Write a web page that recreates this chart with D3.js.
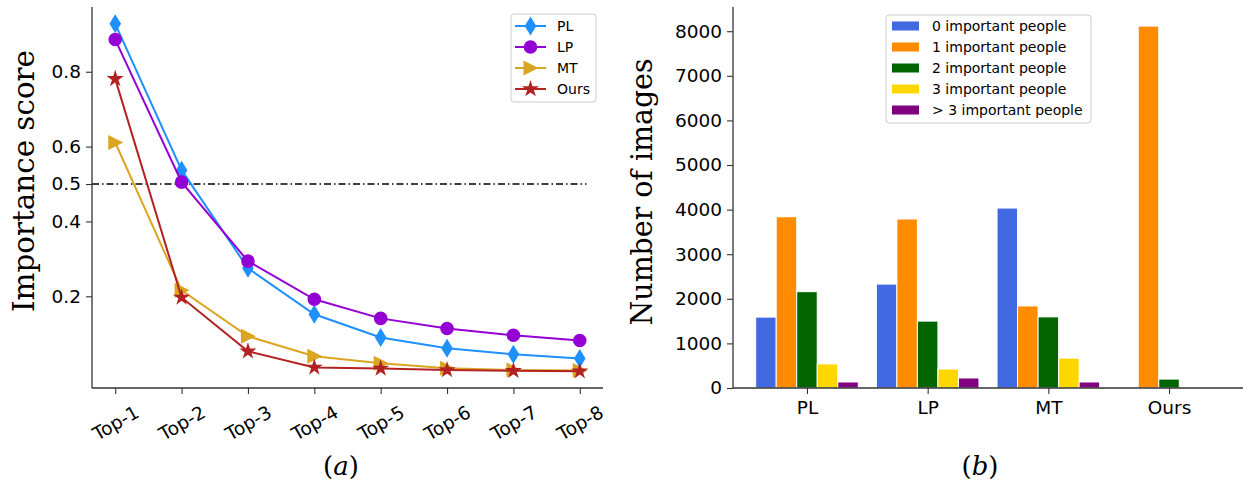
<!DOCTYPE html>
<html><head><meta charset="utf-8">
<script src="https://cdn.jsdelivr.net/npm/d3@7"></script>
<style>
html,body{margin:0;padding:0;background:#fff;}
svg{display:block;font-family:"DejaVu Sans",sans-serif;}
</style></head>
<body>
<svg id="chart" width="1243" height="487"></svg>
<script>
// ---------- data ----------
const topLabels = ["Top-1","Top-2","Top-3","Top-4","Top-5","Top-6","Top-7","Top-8"];
const seriesNames = ["PL","LP","MT","Ours"];
const plScores   = [0.928,0.537,0.275,0.152,0.090,0.061,0.045,0.034];
const lpScores   = [0.886,0.505,0.294,0.192,0.141,0.114,0.096,0.082];
const mtScores   = [0.611,0.216,0.093,0.040,0.021,0.008,0.003,0.002];
const oursScores = [0.781,0.197,0.053,0.010,0.007,0.003,0.001,0.000];
const scoreTicks = [0.2,0.4,0.5,0.6,0.8];
const thresholdValue = 0.5;

const methods = ["PL","LP","MT","Ours"];
const groupNames = ["0 important people","1 important people","2 important people","3 important people","> 3 important people"];
const count0 = [1590,2330,4035,0];
const count1 = [3840,3790,1840,8115];
const count2 = [2160,1500,1595,200];
const count3 = [540,425,670,0];
const count4 = [135,225,135,0];
const countTicks = [0,1000,2000,3000,4000,5000,6000,7000,8000];

// ---------- styles ----------
const lineColors = ["#1e90ff","#9400d3","#daa520","#b22222"];
const barColors = ["#4169e1","#ff8c00","#006400","#ffd700","#800080"];
const axisColor = "#333";
const serif = "'DejaVu Serif','Liberation Serif',serif";
const sans = "'DejaVu Sans',sans-serif";

const svg = d3.select("#chart");

function markerPath(kind){
  const p = d3.path();
  if(kind==="diamond"){ p.moveTo(0,-9.5);p.lineTo(5.8,0);p.lineTo(0,9.5);p.lineTo(-5.8,0);p.closePath(); }
  else if(kind==="circle"){ p.arc(0,0,6.8,0,2*Math.PI); p.closePath(); }
  else if(kind==="tri"){ p.moveTo(8,0);p.lineTo(-7,-7.5);p.lineTo(-7,7.5);p.closePath(); }
  else if(kind==="star"){
    const R=9, r=R*0.382;
    for(let i=0;i<10;i++){
      const a=-Math.PI/2+i*Math.PI/5, rr=i%2?r:R;
      const x=rr*Math.cos(a), y=rr*Math.sin(a);
      if(i===0)p.moveTo(x,y);else p.lineTo(x,y);
    }
    p.closePath();
  }
  return p.toString();
}
const markerKinds = ["diamond","circle","tri","star"];

// ---------- left chart ----------
const xL = d3.scaleLinear().domain([-0.35,7.35]).range([92,603]);
const yL = d3.scaleLinear().domain([-0.045,0.973]).range([388,7]);
const gL = svg.append("g");

const scoreSeries = [plScores,lpScores,mtScores,oursScores];

// threshold line
gL.append("line")
  .attr("x1",xL(-0.35)).attr("x2",xL(7.1))
  .attr("y1",yL(thresholdValue)).attr("y2",yL(thresholdValue))
  .attr("stroke","#000").attr("stroke-width",1.4)
  .attr("stroke-dasharray","7,3,1.5,3");

const line = d3.line().x((d,i)=>xL(i)).y(d=>yL(d));
scoreSeries.forEach((s,k)=>{
  const g = gL.append("g");
  g.append("path").attr("d",line(s)).attr("fill","none")
    .attr("stroke",lineColors[k]).attr("stroke-width",2);
  g.selectAll("path.m").data(s).join("path").attr("class","m")
    .attr("d",markerPath(markerKinds[k]))
    .attr("transform",(d,i)=>`translate(${xL(i)},${yL(d)})`)
    .attr("fill",lineColors[k]);
});

// axes left
const axL = gL.append("g").attr("transform","translate(92,0)")
  .call(d3.axisLeft(yL).tickValues(scoreTicks).tickFormat(d3.format(".1f")).tickSize(6).tickPadding(5));
axL.select(".domain").attr("stroke",axisColor).attr("stroke-width",1.3).attr("d","M0,7V388");
axL.selectAll(".tick line").attr("stroke",axisColor).attr("stroke-width",1.1);
axL.selectAll("text").style("font-size","18.5px").style("font-family",sans);

const axLb = gL.append("g").attr("transform","translate(0,388)")
  .call(d3.axisBottom(xL).tickValues(d3.range(topLabels.length)).tickFormat(i=>topLabels[i]).tickSize(6));
axLb.select(".domain").attr("stroke",axisColor).attr("stroke-width",1.3).attr("d","M92,0H603");
axLb.selectAll(".tick line").attr("stroke",axisColor).attr("stroke-width",1.1);
axLb.selectAll("text").style("font-size","18.5px").style("font-family",sans)
  .attr("text-anchor","middle").attr("dy",null).attr("y",null)
  .attr("dominant-baseline","central")
  .attr("transform","translate(0,35) rotate(-30)");

gL.append("text").attr("transform","translate(34,181) rotate(-90)")
  .attr("text-anchor","middle").style("font-family",serif).style("font-size","29px")
  .attr("textLength",262).attr("lengthAdjust","spacingAndGlyphs")
  .text("Importance score");

const capA = gL.append("text").attr("x",341).attr("y",475).attr("text-anchor","middle")
  .style("font-family",serif).style("font-size","26px");
capA.append("tspan").text("(");
capA.append("tspan").style("font-style","italic").text("a");
capA.append("tspan").text(")");

// legend left
const legL = gL.append("g");
legL.append("rect").attr("x",511).attr("y",14).attr("width",85).attr("height",88)
  .attr("rx",3).attr("fill","#fff").attr("fill-opacity",0.8).attr("stroke","#ccc").attr("stroke-width",1);
seriesNames.forEach((n,k)=>{
  const y = 26 + k*21;
  legL.append("line").attr("x1",515).attr("x2",546).attr("y1",y).attr("y2",y)
    .attr("stroke",lineColors[k]).attr("stroke-width",2);
  legL.append("path").attr("d",markerPath(markerKinds[k])).attr("transform",`translate(530.5,${y})`)
    .attr("fill",lineColors[k]);
  legL.append("text").attr("x",557).attr("y",y).attr("dy","0.36em").style("font-size","14px").style("font-family",sans).text(n);
});

// ---------- right chart ----------
const xR = d3.scaleLinear().domain([-0.613,3.613]).range([733,1243]);
const yR = d3.scaleLinear().domain([0,8543]).range([388,7]);
const gR = svg.append("g");
const countSeries = [count0,count1,count2,count3,count4];
const barW = 0.17;

countSeries.forEach((s,k)=>{
  gR.append("g").selectAll("rect").data(s).join("rect")
    .attr("x",(d,i)=>xR(i+(k-2)*barW-barW/2))
    .attr("width",xR(barW)-xR(0))
    .attr("y",d=>yR(d))
    .attr("height",d=>yR(0)-yR(d))
    .attr("fill",barColors[k])
    .attr("stroke",d=>d>0?"#fff":"none").attr("stroke-width",1);
});

const axR = gR.append("g").attr("transform","translate(733,0)")
  .call(d3.axisLeft(yR).tickValues(countTicks).tickFormat(d3.format("d")).tickSize(6).tickPadding(5));
axR.select(".domain").attr("stroke",axisColor).attr("stroke-width",1.3).attr("d","M0,7V388");
axR.selectAll(".tick line").attr("stroke",axisColor).attr("stroke-width",1.1);
axR.selectAll("text").style("font-size","18.5px").style("font-family",sans);

const axRb = gR.append("g").attr("transform","translate(0,388)")
  .call(d3.axisBottom(xR).tickValues(d3.range(methods.length)).tickFormat(i=>methods[i]).tickSize(6).tickPadding(7));
axRb.select(".domain").attr("stroke",axisColor).attr("stroke-width",1.3).attr("d","M733,0H1243");
axRb.selectAll(".tick line").attr("stroke",axisColor).attr("stroke-width",1.1);
axRb.selectAll("text").style("font-size","18.5px").style("font-family",sans);

gR.append("text").attr("transform","translate(652,192) rotate(-90)")
  .attr("text-anchor","middle").style("font-family",serif).style("font-size","29px")
  .attr("textLength",267).attr("lengthAdjust","spacingAndGlyphs")
  .text("Number of images");

const capB = gR.append("text").attr("x",980).attr("y",475).attr("text-anchor","middle")
  .style("font-family",serif).style("font-size","26px");
capB.append("tspan").text("(");
capB.append("tspan").style("font-style","italic").text("b");
capB.append("tspan").text(")");

// legend right
const legR = gR.append("g");
legR.append("rect").attr("x",886).attr("y",15).attr("width",205).attr("height",108)
  .attr("rx",3).attr("fill","#fff").attr("fill-opacity",0.8).attr("stroke","#ccc").attr("stroke-width",1);
groupNames.forEach((n,k)=>{
  const y = 26 + k*21;
  legR.append("rect").attr("x",892).attr("y",y-4.5).attr("width",27).attr("height",9)
    .attr("fill",barColors[k]);
  legR.append("text").attr("x",932).attr("y",y).attr("dy","0.36em").style("font-size","14px").style("font-family",sans).text(n);
});
</script>
</body></html>
